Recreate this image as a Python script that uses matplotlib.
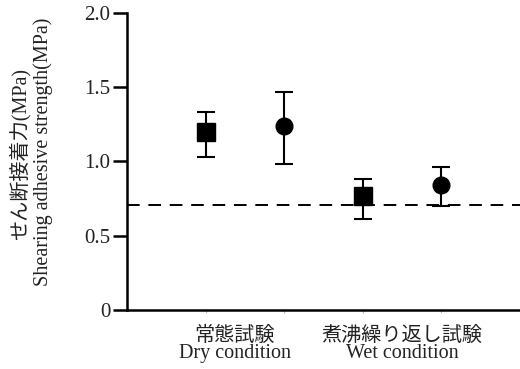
import matplotlib

matplotlib.use("Agg")
import matplotlib.pyplot as plt

JP = ["Noto Sans CJK JP", "DejaVu Sans"]
SERIF = ["Liberation Serif", "DejaVu Serif"]
SERIF_JP = ["Liberation Serif", "Noto Sans CJK JP"]

# data
positions = [1, 2, 3, 4]
means = [1.20, 1.24, 0.77, 0.84]
err_low = [0.17, 0.26, 0.16, 0.14]
err_high = [0.13, 0.23, 0.11, 0.12]
markers = ["s", "o", "s", "o"]
threshold = 0.71

yticks = [0, 0.5, 1.0, 1.5, 2.0]
ytick_labels = ["0", "0.5", "1.0", "1.5", "2.0"]
group_pos = [1.37, 3.5]
group_jp = ["常態試験", "煮沸繰り返し試験"]
group_en = ["Dry condition", "Wet condition"]
ylabel_jp = "せん断接着力(MPa)"
ylabel_en = "Shearing adhesive strength(MPa)"

TXT = "#222222"

fig = plt.figure(figsize=(5.2, 3.69), dpi=100)
ax = fig.add_axes([0.244, 0.160, 0.756, 0.805])

ax.axhline(threshold, color="black", lw=1.4, ls=(0, (6.5, 4.5)), zorder=1)
for x, m, lo, hi, mk in zip(positions, means, err_low, err_high, markers):
    ms = 12.5 if mk == "s" else 12
    ax.errorbar(x, m, yerr=[[lo], [hi]], fmt=mk, color="black", ms=ms,
                elinewidth=1.5, capsize=6.5, capthick=1.5, zorder=3)

ax.set_xlim(0, 5)
ax.set_ylim(0, 2.0)
ax.set_yticks(yticks)
ax.set_yticklabels(ytick_labels, fontfamily=SERIF, fontsize=15, color=TXT)
ax.set_xticks(positions)
ax.set_xticklabels([])
ax.tick_params(axis="x", length=2, width=0.8, color="#bbbbbb")
ax.tick_params(axis="y", length=10, width=1.8, pad=2)
ax.spines["top"].set_visible(False)
ax.spines["right"].set_visible(False)
ax.spines["left"].set_linewidth(1.8)
ax.spines["bottom"].set_linewidth(1.8)
ax.spines["left"].set_bounds(0, 2.0)

for gx, jp, en in zip(group_pos, group_jp, group_en):
    ax.text(gx, -0.085, jp, transform=ax.get_xaxis_transform(), ha="center", va="center",
            fontfamily=JP, fontsize=14.5, color=TXT)
    ax.text(gx, -0.148, en, transform=ax.get_xaxis_transform(), ha="center", va="center",
            fontfamily=SERIF, fontsize=14.5, color=TXT)

fig.text(20 / 520, 1 - 154 / 369, ylabel_jp, rotation=90, ha="center", va="center",
         fontfamily=SERIF_JP, fontsize=14.5, color=TXT)
fig.text(43 / 520, 1 - 152 / 369, ylabel_en, rotation=90,
         ha="center", va="center", fontfamily=SERIF, fontsize=14.5, color=TXT)

fig.savefig("out.png", dpi=100)
